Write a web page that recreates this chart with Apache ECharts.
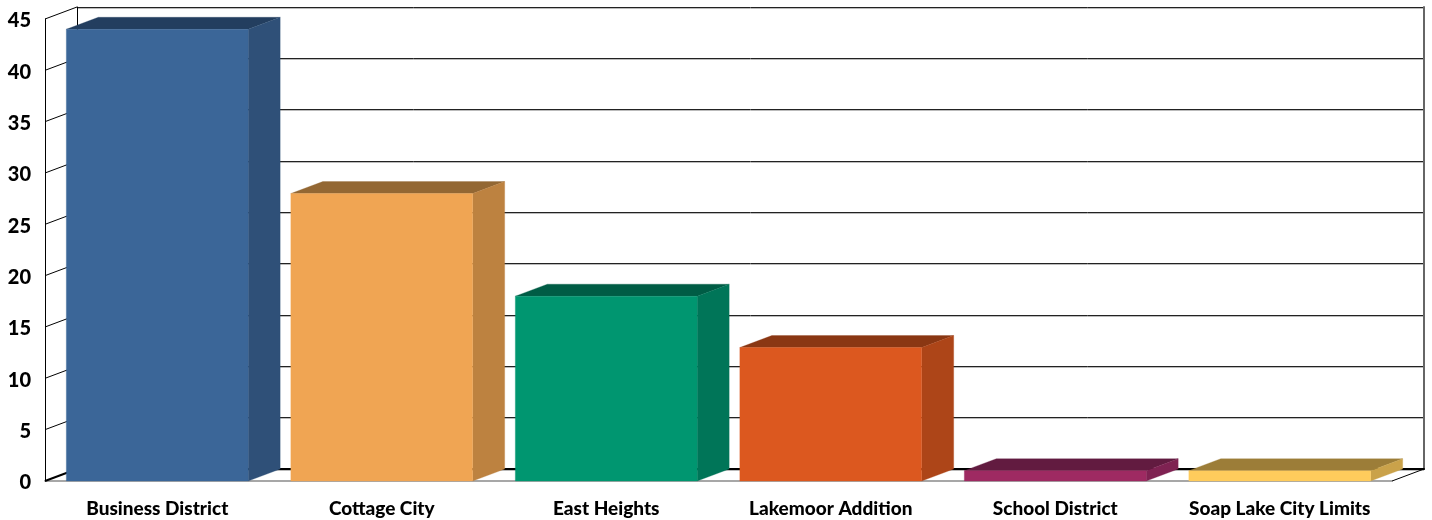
<!DOCTYPE html>
<html>
<head>
<meta charset="utf-8">
<style>html,body{margin:0;padding:0;background:#fff}#c{width:1432px;height:520px}</style>
<script src="https://cdn.jsdelivr.net/npm/echarts@6/dist/echarts.min.js"></script>
</head>
<body>
<div id="c"></div>
<script>
const categories = ['Business District','Cottage City','East Heights','Lakemoor Addition','School District','Soap Lake City Limits'];
const values = [44,28,18,13,1,1];
const yTicks = [0,5,10,15,20,25,30,35,40,45];
const frontColors = ['#3B6698','#F0A553','#009670','#DC581F','#9E2A62','#FFCC5C'];
const topColors   = ['#233E5F','#936733','#005C45','#8A3713','#621B40','#9C7D38'];
const sideColors  = ['#2F5078','#BD8240','#007558','#AD4518','#7F2252','#CAA24A'];
const DX = 32, DY = -12, BAR_RATIO = 0.81;
const FONT = 'Lato, "Open Sans", sans-serif';

const chart = echarts.init(document.getElementById('c'), null, {renderer:'canvas'});

function poly(points, fill){
  return {type:'polygon', shape:{points}, style:{fill, stroke:fill, lineWidth:0.3}};
}
function renderBar(params, api){
  const i = api.value(0), v = api.value(1);
  const top = api.coord([i, v]), base = api.coord([i, 0]);
  const w = api.size([1,0])[0] * BAR_RATIO;
  const l = top[0]-w/2, r = top[0]+w/2, t = top[1], b = base[1];
  return {type:'group', children:[
    poly([[l,t],[l+DX,t+DY],[r+DX,t+DY],[r,t]], topColors[i]),
    poly([[r,t],[r+DX,t+DY],[r+DX,b+DY],[r,b]], sideColors[i]),
    poly([[l,t],[r,t],[r,b],[l,b]], frontColors[i])
  ]};
}
function renderWallTick(params, api){
  const v = api.value(0);
  const x = params.coordSys.x, y = api.coord([0, v])[1];
  return {type:'line', shape:{x1:x,y1:y,x2:x+DX,y2:y+DY},
    style:{stroke:'#000', lineWidth: v===0 ? 2 : 1}};
}
function renderFloorEdge(params, api){
  const x = params.coordSys.x + params.coordSys.width, y = api.coord([0, 0])[1];
  return {type:'line', shape:{x1:x,y1:y,x2:x+DX,y2:y+DY}, style:{stroke:'#000', lineWidth:1}};
}

chart.setOption({
  animation:false,
  backgroundColor:'#fff',
  grid:[
    {left:45, right:40, top:19, bottom:39},
    {left:77, right:8, top:7, bottom:51}
  ],
  xAxis:[
    {type:'category', gridIndex:0, data:categories,
      axisLine:{lineStyle:{color:'#8a8a8a', width:1.5}}, axisTick:{show:false},
      axisLabel:{interval:0, margin:18, color:'#000', fontFamily:FONT, fontWeight:'900', fontSize:19}},
    {type:'category', gridIndex:1, data:categories,
      axisLine:{lineStyle:{color:'#000', width:2}}, axisTick:{show:false}, axisLabel:{show:false}}
  ],
  yAxis:[
    {type:'value', gridIndex:0, min:0, max:45, interval:5,
      axisLine:{show:true, lineStyle:{color:'#000', width:1}}, axisTick:{show:false}, splitLine:{show:false},
      axisLabel:{margin:14, formatter:'{a|{value}}', rich:{a:{padding:[4,0,0,0], color:'#000', fontFamily:FONT, fontWeight:'900', fontSize:20}}}},
    {type:'value', gridIndex:1, min:0, max:45, interval:5,
      axisLine:{show:true, lineStyle:{color:'#000', width:1}}, axisTick:{show:false}, axisLabel:{show:false},
      splitLine:{show:true, lineStyle:{color:'#222', width:1, shadowColor:'#bbb', shadowOffsetY:1, shadowBlur:0}}},
    {type:'value', gridIndex:1, position:'right', min:0, max:45, interval:5,
      axisLine:{show:true, onZero:false, lineStyle:{color:'#666', width:2}}, axisTick:{show:false}, axisLabel:{show:false}, splitLine:{show:false}}
  ],
  series:[
    {type:'custom', xAxisIndex:0, yAxisIndex:0, z:2, silent:true, clip:false,
      data:yTicks.map(v=>[v]), encode:{y:0}, renderItem:renderWallTick},
    {type:'custom', xAxisIndex:0, yAxisIndex:0, z:2, silent:true, clip:false,
      data:[[0]], encode:{y:0}, renderItem:renderFloorEdge},
    {type:'custom', xAxisIndex:0, yAxisIndex:0, z:5, silent:true, clip:false,
      data:values.map((v,i)=>[i,v]), encode:{x:0,y:1}, renderItem:renderBar}
  ]
});
</script>
</body>
</html>
